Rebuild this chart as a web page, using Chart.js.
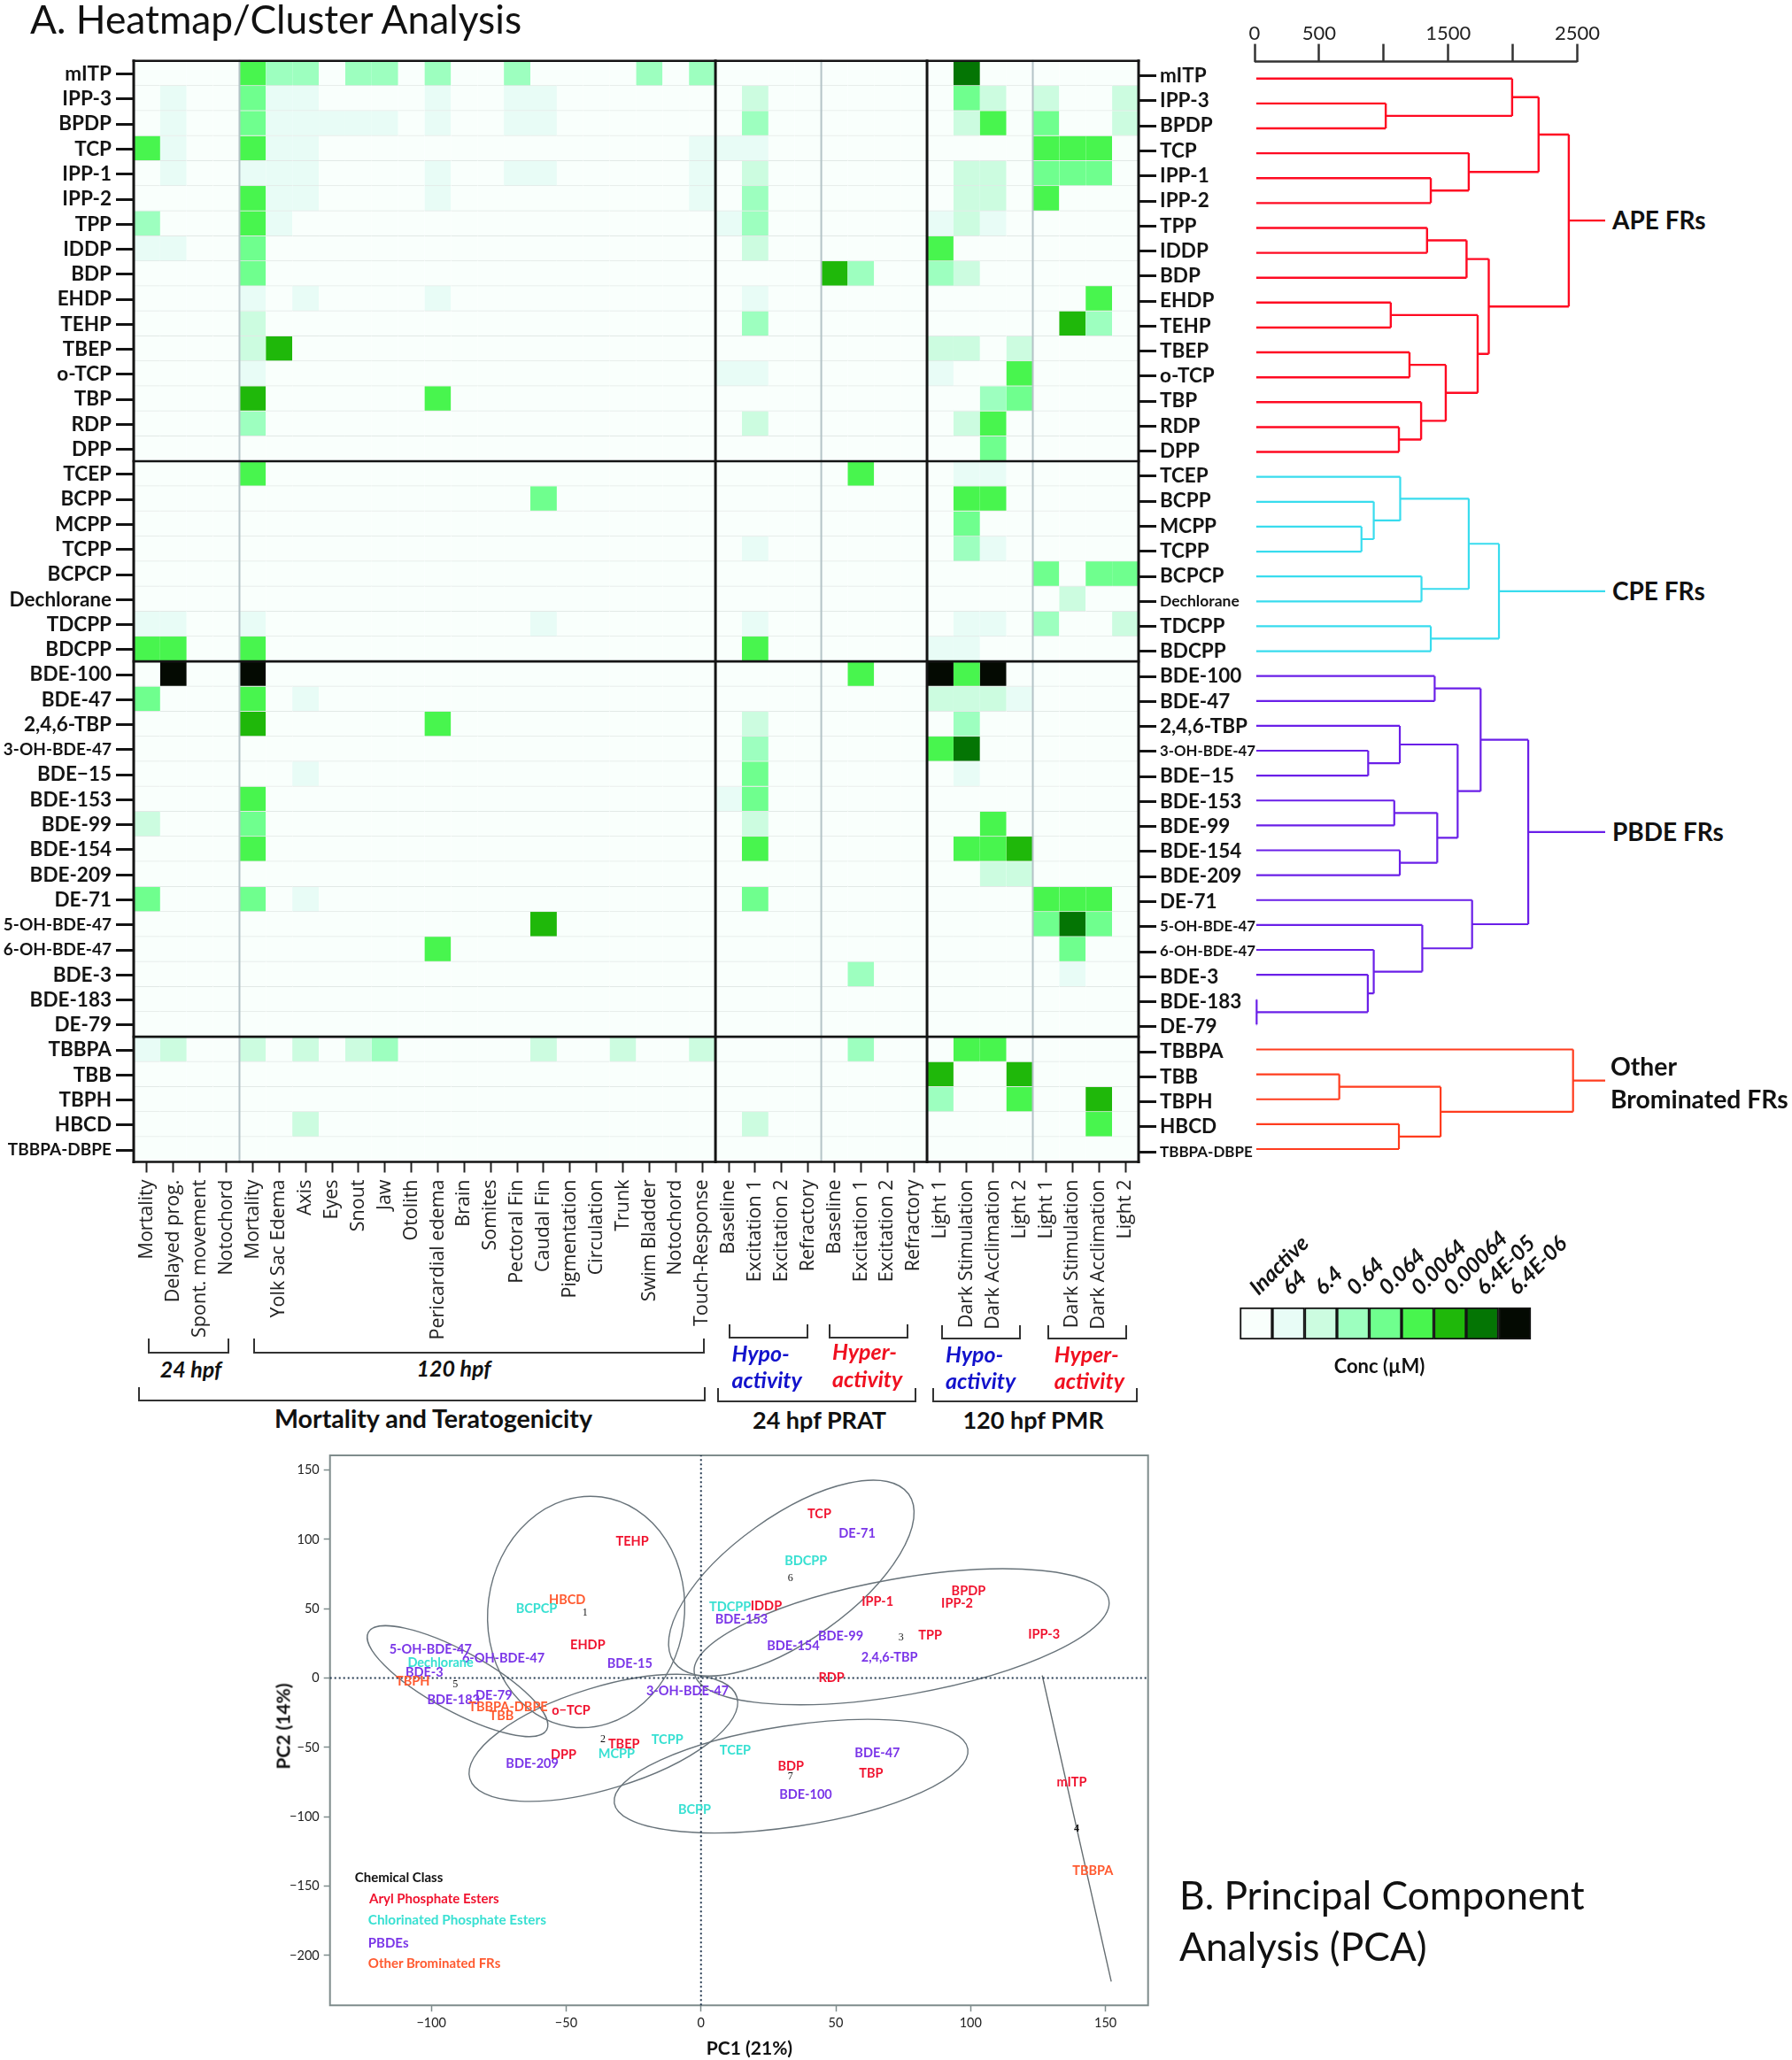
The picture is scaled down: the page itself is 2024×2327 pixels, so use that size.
<!DOCTYPE html>
<html>
<head>
<meta charset="utf-8">
<title>Heatmap/Cluster Analysis and PCA</title>
<script src="https://cdn.jsdelivr.net/npm/chart.js@4/dist/chart.umd.js"></script>
<style>
  html, body { margin: 0; padding: 0; background: #fff; }
  #page { position: relative; width: 2024px; height: 2327px; overflow: hidden; font-family: Lato, sans-serif; color: #111; }
  #page canvas { position: absolute; }
  .note { position: absolute; white-space: nowrap; line-height: 1; }
  .bracket { position: absolute; box-sizing: border-box; border: 2px solid #333; border-top: 0; }
</style>
</head>
<body>
<div id="page">
  <canvas id="heat" width="1440" height="1520" style="left:0;top:0"></canvas>
  <canvas id="dendro" width="420" height="1320" style="left:1400px;top:0"></canvas>
  <canvas id="key" width="420" height="150" style="left:1380px;top:1380px"></canvas>
  <canvas id="pca" width="1040" height="680" style="left:300px;top:1620px"></canvas>
</div>
<script>
// heatmap axes
var rowNames = ['mITP','IPP-3','BPDP','TCP','IPP-1','IPP-2','TPP','IDDP','BDP','EHDP','TEHP','TBEP','o-TCP','TBP','RDP','DPP',
  'TCEP','BCPP','MCPP','TCPP','BCPCP','Dechlorane','TDCPP','BDCPP',
  'BDE-100','BDE-47','2,4,6-TBP','3-OH-BDE-47','BDE\u221215','BDE-153','BDE-99','BDE-154','BDE-209','DE-71','5-OH-BDE-47','6-OH-BDE-47','BDE-3','BDE-183','DE-79',
  'TBBPA','TBB','TBPH','HBCD','TBBPA-DBPE'];
var colNames = ['Mortality','Delayed prog.','Spont. movement','Notochord','Mortality','Yolk Sac Edema','Axis','Eyes','Snout','Jaw','Otolith','Pericardial edema','Brain','Somites','Pectoral Fin','Caudal Fin','Pigmentation','Circulation','Trunk','Swim Bladder','Notochord','Touch-Response',
  'Baseline','Excitation 1','Excitation 2','Refractory','Baseline','Excitation 1','Excitation 2','Refractory',
  'Light 1','Dark Stimulation','Dark Acclimation','Light 2','Light 1','Dark Stimulation','Dark Acclimation','Light 2'];

// active cells of each row as [column, level], everything else is level 0 (inactive)
var heatCells = [
  [[4,5],[5,3],[6,3],[8,3],[9,3],[11,3],[14,3],[19,3],[21,3],[31,7]],
  [[1,1],[4,4],[5,1],[6,1],[11,1],[14,1],[15,1],[23,2],[31,4],[32,2],[34,2],[37,2]],
  [[1,1],[4,4],[5,1],[6,1],[7,1],[8,1],[9,1],[11,1],[14,1],[15,1],[23,3],[31,2],[32,5],[34,4],[37,2]],
  [[0,5],[1,1],[4,5],[5,1],[6,1],[21,1],[22,1],[23,1],[34,5],[35,5],[36,5]],
  [[1,1],[4,1],[5,1],[6,1],[11,1],[14,1],[15,1],[21,1],[23,2],[31,2],[32,2],[34,4],[35,4],[36,4]],
  [[4,5],[5,1],[6,1],[11,1],[21,1],[23,3],[31,2],[32,2],[34,5]],
  [[0,3],[4,5],[5,1],[22,1],[23,3],[30,1],[31,2],[32,1]],
  [[0,1],[1,1],[4,4],[23,2],[30,5]],
  [[4,4],[26,6],[27,3],[30,3],[31,2]],
  [[4,1],[6,1],[11,1],[23,1],[36,5]],
  [[4,2],[23,3],[35,6],[36,3]],
  [[4,2],[5,6],[30,2],[31,2],[33,2]],
  [[4,1],[22,1],[23,1],[30,1],[33,5]],
  [[4,6],[11,5],[32,3],[33,4]],
  [[4,3],[23,2],[31,2],[32,5]],
  [[32,4]],
  [[4,5],[27,5],[31,1],[32,1]],
  [[15,4],[31,5],[32,5]],
  [[31,4]],
  [[23,1],[31,3],[32,1]],
  [[34,4],[36,4],[37,4]],
  [[35,2]],
  [[0,1],[1,1],[4,1],[15,1],[23,1],[31,1],[32,1],[34,3],[37,2]],
  [[0,5],[1,5],[4,5],[23,5],[30,1],[31,1]],
  [[1,8],[4,8],[27,5],[30,8],[31,5],[32,8]],
  [[0,4],[4,5],[6,1],[30,2],[31,2],[32,2],[33,1]],
  [[4,6],[11,5],[23,2],[31,3]],
  [[23,3],[30,5],[31,7]],
  [[6,1],[23,4],[31,1]],
  [[4,5],[22,1],[23,4]],
  [[0,2],[4,4],[23,2],[32,5]],
  [[4,5],[23,5],[31,5],[32,5],[33,6]],
  [[32,2],[33,2]],
  [[0,4],[4,4],[6,1],[23,4],[34,5],[35,5],[36,5]],
  [[15,6],[34,4],[35,7],[36,4]],
  [[11,5],[35,4]],
  [[27,3],[35,1]],
  [],
  [],
  [[0,1],[1,2],[4,2],[6,2],[8,2],[9,3],[15,2],[18,2],[21,2],[27,3],[31,5],[32,5]],
  [[30,6],[33,6]],
  [[30,3],[33,5],[36,6]],
  [[6,2],[23,2],[36,5]],
  []
];

// colour key
var keyLabels = ['Inactive','64','6.4','0.64','0.064','0.0064','0.00064','6.4E-05','6.4E-06'];
var heatColours = ['#f9fffc','#e8fcf6','#ccfce0','#9dffbf','#6fff8e','#48f54e','#1fb80a','#047504','#040a02'];

// section breaks of the heatmap
var blackCols = [0,22,30,38];
var grayCols = [4,26,34];
var blackRows = [0,16,24,39,44];

// dendrogram: [child, child, height], a child is a row index or 'mN' for an earlier merge
var apeMerges = [[1,2,1016],[0,'m0',1995],[4,5,1365],[3,'m2',1659],['m1','m3',2200],[6,7,1336],['m5',8,1642],[9,10,1055],[11,12,1200],[14,15,1118],[13,'m9',1290],['m8','m10',1481],['m7','m11',1728],['m6','m12',1814],['m4','m13',2434]];
var cpeMerges = [[18,19,828],[17,'m0',923],[16,'m1',1128],[20,21,1293],['m2','m3',1659],[22,23,1365],['m4','m5',1893]];
var pbdeMerges = [[24,25,1395],[27,28,880],[26,'m1',1125],[29,30,1082],[31,32,1125],['m3','m4',1415],['m2','m5',1573],['m0','m6',1751],[37,38,16],[36,'m8',877],[35,'m9',923],[34,'m10',1299],[33,'m11',1685],['m7','m12',2120]];
var otherMerges = [[40,41,656],[42,43,1118],['m0','m1',1441],[39,'m2',2467]];
var dendroTicks = [0,500,1000,1500,2000,2500];
var dendroTickLabels = ['0','500','','1500','','2500'];

// PCA scores, class 0 aryl phosphate, 1 chlorinated, 2 PBDE, 3 other brominated
var pcaNames = ['TEHP','HBCD','BCPCP','EHDP','BDE-15','5-OH-BDE-47','6-OH-BDE-47','Dechlorane','BDE-3','TBPH','DE-79','BDE-183','TBBPA-DBPE','TBB','o\u2212TCP','3-OH-BDE-47','TBEP','TCPP','MCPP','DPP','BDE-209','BCPP',
  'TCP','DE-71','BDCPP','TDCPP','IDDP','BDE-153','IPP-1','BPDP','IPP-2','BDE-99','TPP','IPP-3','BDE-154','2,4,6-TBP','RDP','TCEP','BDE-47','BDP','TBP','BDE-100','mITP','TBBPA'];
var pc1 = [-25.5,-49.6,-61,-42,-26.4,-100.3,-73.3,-96.6,-102.6,-106.9,-76.8,-91.8,-71.5,-74,-48.2,-5,-28.6,-12.5,-31.3,-51,-62.6,-2.4,
  43.9,57.9,38.9,10.8,24.2,15,65.5,99.2,95,51.8,85,127.2,34.2,69.9,48.4,12.7,65.4,33.3,63.1,38.8,137.5,145.3];
var pc2 = [98.7,56.2,50.2,24,10.4,20.9,14,11,4.3,-2.3,-12.3,-15.7,-21,-27.2,-23.4,-9.1,-47.7,-44.3,-54.9,-55.3,-61.9,-94.7,
  118,104,84.3,51,51.7,42.6,55.1,63,53.6,30,30.6,31.7,23,14.7,0.2,-52.1,-54.3,-63.8,-68.7,-84,-75.3,-138.9];
var pcaClass = [0,3,1,0,2,2,2,1,2,3,2,2,3,3,0,2,0,1,1,0,2,1,
  0,2,1,1,0,2,0,0,0,2,0,0,2,2,0,1,2,0,0,2,0,3];
var clusterIds = ['1','5','2','6','3','7','4'];
var clusterPc1 = [-43,-91.1,-36.4,33.2,74.2,33.2,139.3];
var clusterPc2 = [46.8,-4.9,-44,71.7,29.1,-71.3,-108.5];

// cluster ellipses: centre in PC units, radii and tilt as seen on the page
var ellipseCentres = [[-42.6,47.7],[-90.3,-2.2],[-36.2,-43.1],[33.4,-70.7],[33.5,72.1],[74.4,29.8]];
var ellipseRadii = [[111,131],[114.8,33.8],[157.7,57.5],[202,57],[163,70],[237.7,65.7]];
var ellipseTilts = [7.7,28.7,-17,-8.7,-35.6,-10];
var cluster4Line = [[126.6,1.5],[152.1,-218.4]];

var classColours = ['#f0132f','#38e0d2','#7a35e8','#ff5a30'];
var BLACK = '#141414';

Chart.defaults.font.family = 'Lato, sans-serif';
Chart.defaults.animation = false;
Chart.defaults.responsive = false;
Chart.defaults.devicePixelRatio = 1;
Chart.defaults.plugins.legend.display = false;
Chart.defaults.plugins.tooltip.enabled = false;
Chart.defaults.layout.autoPadding = false;

// several straight pieces as one path, NaN breaks the line
function pieces(list) {
  var out = [];
  list.forEach(function (p) {
    out.push({x: p[0], y: p[1]}, {x: p[2], y: p[3]}, {x: NaN, y: NaN});
  });
  return out;
}

function lineSet(data, color, width, xAxis, yAxis) {
  return {type: 'line', data: data, borderColor: color, borderWidth: width, pointRadius: 0, clip: false, order: 0,
    xAxisID: xAxis, yAxisID: yAxis, borderCapStyle: 'square'};
}

// ---- heatmap ----
var heatSets = rowNames.map(function (name, r) {
  var colours = colNames.map(function () { return heatColours[0]; });
  heatCells[r].forEach(function (c) { colours[c[0]] = heatColours[c[1]]; });
  return {
    type: 'bar', label: name, data: colNames.map(function () { return [r, r + 1]; }),
    backgroundColor: colours, borderColor: '#e2e9e6', borderWidth: {top: 0, left: 0, right: 0, bottom: 1},
    borderSkipped: false, barPercentage: 1, categoryPercentage: 1, grouped: false, order: 2,
    xAxisID: 'x', yAxisID: 'y'
  };
});
heatSets.push(lineSet(pieces(grayCols.map(function (c) { return [c, 0, c, 44]; })), '#b4c3c7', 2, 'xl', 'y'));
heatSets[heatSets.length - 1].order = 1;
heatSets.push(lineSet(pieces(blackCols.map(function (c) { return [c, 0, c, 44]; })), BLACK, 3, 'xl', 'y'));
heatSets.push(lineSet(pieces(blackRows.map(function (r) { return [0, r, 38, r]; })), BLACK, 2.6, 'xl', 'y'));

function centreTicks(axis) {
  axis.ticks = rowNames.map(function (n, i) { return {value: i + 0.53}; });
}
var smallLeft = {'3-OH-BDE-47': 19, '5-OH-BDE-47': 19, '6-OH-BDE-47': 19, 'TBBPA-DBPE': 19};
var smallRight = {'Dechlorane': 17.5, '3-OH-BDE-47': 16.8, '5-OH-BDE-47': 16.8, '6-OH-BDE-47': 16.8, 'TBBPA-DBPE': 17};
function rowAxis(position, sizes, low, width, gap) {
  return {
    type: 'linear', position: position, reverse: true, min: low, max: low + 44,
    afterBuildTicks: centreTicks,
    afterFit: function (axis) { axis.width = width; },
    border: {display: false},
    grid: {drawOnChartArea: false, tickLength: 20, tickWidth: 3, tickColor: BLACK},
    ticks: {
      autoSkip: false, padding: gap, color: BLACK,
      callback: function (v, i) { return rowNames[i]; },
      font: function (ctx) {
        return {size: sizes[rowNames[ctx.index]] || 22.5, weight: 'bold'};
      }
    }
  };
}

new Chart(document.getElementById('heat'), {
  type: 'bar',
  data: {labels: colNames, datasets: heatSets},
  options: {
    layout: {padding: {top: 68.7}},
    scales: {
      x: {
        type: 'category', position: 'bottom', offset: true,
        afterFit: function (axis) { axis.height = 207.5; },
        border: {display: false},
        grid: {drawOnChartArea: false, tickLength: 12, tickWidth: 2, tickColor: '#222', offset: false},
        ticks: {autoSkip: false, minRotation: 90, maxRotation: 90, padding: 8, color: '#222', font: {family: 'Open Sans', size: 21.5}}
      },
      xl: {type: 'linear', display: false, offset: false, min: 0, max: 38},
      y: rowAxis('left', smallLeft, 0, 151, 5),
      yr: rowAxis('right', smallRight, -0.07, 154, 4)
    }
  }
});

// ---- dendrogram ----
var LEAF_START = 13;
function dendroPaths(merges, stemEnd) {
  var made = [], lines = [];
  function node(ref) {
    return typeof ref === 'string' ? made[+ref.slice(1)] : {h: LEAF_START, y: ref};
  }
  merges.forEach(function (m) {
    var a = node(m[0]), b = node(m[1]);
    lines.push([a.h, a.y, m[2], a.y], [m[2], a.y, m[2], b.y], [b.h, b.y, m[2], b.y]);
    made.push({h: m[2], y: (a.y + b.y) / 2});
  });
  var top = made[made.length - 1];
  lines.push([top.h, top.y, stemEnd, top.y]);
  return pieces(lines);
}
var Y_TOP = -0.68;
new Chart(document.getElementById('dendro'), {
  type: 'scatter',
  data: {datasets: [
    lineSet(dendroPaths(apeMerges, 2716), '#ff0a22', 2.4, 'x', 'y'),
    lineSet(dendroPaths(cpeMerges, 2716), '#38dcee', 2.2, 'x', 'y'),
    lineSet(dendroPaths(pbdeMerges, 2716), '#6a1fe8', 2.2, 'x', 'y'),
    lineSet(dendroPaths(otherMerges, 2716), '#ff3c1e', 2.2, 'x', 'y'),
    lineSet(pieces([[0, Y_TOP, 2500, Y_TOP]]), '#333', 2.5, 'x', 'y')
  ].map(function (d) { d.showLine = true; d.borderCapStyle = 'butt'; return d; })},
  options: {
    layout: {padding: {left: 17, right: 6.4, bottom: 16.4}},
    scales: {
      x: {
        type: 'linear', position: 'top', min: 0, max: 2720,
        afterBuildTicks: function (axis) { axis.ticks = dendroTicks.map(function (v) { return {value: v}; }); },
        afterFit: function (axis) { axis.height = 69.6; },
        border: {display: false},
        grid: {drawOnChartArea: false, tickLength: 20, tickWidth: 2.5, tickColor: '#333'},
        ticks: {
          autoSkip: false, maxRotation: 0, padding: -2, color: '#222', font: {size: 22},
          callback: function (v, i) { return dendroTickLabels[i]; }
        }
      },
      y: {type: 'linear', display: false, reverse: true, min: Y_TOP, max: 43.2}
    }
  }
});

// ---- colour key ----
new Chart(document.getElementById('key'), {
  type: 'bar',
  data: {labels: keyLabels, datasets: [{
    data: keyLabels.map(function () { return 1; }),
    backgroundColor: heatColours, borderColor: BLACK, borderWidth: 2, borderSkipped: false,
    barPercentage: 1, categoryPercentage: 1, clip: false
  }]},
  options: {
    layout: {padding: {left: 20.5, right: 71, bottom: 17}},
    scales: {
      x: {
        type: 'category', position: 'top', offset: true,
        afterFit: function (axis) { axis.height = 97; },
        border: {display: false}, grid: {display: false},
        ticks: {autoSkip: false, minRotation: 45, maxRotation: 45, padding: 0, labelOffset: 18, color: BLACK,
          font: {size: 24.5, weight: 'bold', style: 'italic'}}
      },
      y: {type: 'linear', display: false, min: 0, max: 1}
    }
  }
});

// ---- PCA ----
var pcaXMin = -137.6, pcaXMax = 165.8, pcaYMin = -236, pcaYMax = 160.6;
var pcaPlugin = {
  id: 'pcaMarks',
  beforeDatasetsDraw: function (chart) {
    var ctx = chart.ctx, sx = chart.scales.x, sy = chart.scales.y;
    ctx.save();
    ctx.strokeStyle = '#68737a';
    ctx.lineWidth = 1.4;
    ellipseCentres.forEach(function (c, i) {
      ctx.beginPath();
      ctx.ellipse(sx.getPixelForValue(c[0]), sy.getPixelForValue(c[1]), ellipseRadii[i][0], ellipseRadii[i][1], ellipseTilts[i] * Math.PI / 180, 0, Math.PI * 2);
      ctx.stroke();
    });
    ctx.restore();
  },
  afterDatasetsDraw: function (chart) {
    var ctx = chart.ctx;
    ctx.save();
    ctx.textAlign = 'center';
    ctx.textBaseline = 'middle';
    chart.getDatasetMeta(0).data.forEach(function (pt, i) {
      ctx.fillStyle = classColours[pcaClass[i]];
      ctx.font = 'bold 14.5px Lato';
      ctx.fillText(pcaNames[i], pt.x, pt.y);
    });
    chart.getDatasetMeta(1).data.forEach(function (pt, i) {
      ctx.fillStyle = '#111';
      ctx.font = (clusterIds[i] === '4' ? 'bold ' : '') + '12px "Liberation Serif"';
      ctx.fillText(clusterIds[i], pt.x, pt.y);
    });
    ctx.restore();
  }
};
var pcaFrame = [[pcaXMin,pcaYMin,pcaXMax,pcaYMin],[pcaXMax,pcaYMin,pcaXMax,pcaYMax],[pcaXMax,pcaYMax,pcaXMin,pcaYMax],[pcaXMin,pcaYMax,pcaXMin,pcaYMin]];
var zeroLines = lineSet(pieces([[pcaXMin,0,pcaXMax,0],[0,pcaYMin,0,pcaYMax]]), '#23384f', 2, 'x', 'y');
zeroLines.borderDash = [2, 3];
zeroLines.borderCapStyle = 'butt';
var minus = function (v) { return String(v).replace('-', '\u2212'); };
new Chart(document.getElementById('pca'), {
  type: 'scatter',
  data: {datasets: [
    {data: pc1.map(function (x, i) { return {x: x, y: pc2[i]}; }), pointRadius: 0},
    {data: clusterPc1.map(function (x, i) { return {x: x, y: clusterPc2[i]}; }), pointRadius: 0},
    zeroLines,
    lineSet(pieces([[cluster4Line[0][0],cluster4Line[0][1],cluster4Line[1][0],cluster4Line[1][1]]]), '#666e72', 1.4, 'x', 'y'),
    lineSet(pieces(pcaFrame), '#7f8c8c', 2, 'x', 'y')
  ]},
  plugins: [pcaPlugin],
  options: {
    layout: {padding: {top: 24, right: 43.3}},
    scales: {
      x: {
        type: 'linear', min: pcaXMin, max: pcaXMax,
        afterBuildTicks: function (axis) { axis.ticks = [-100,-50,0,50,100,150].map(function (v) { return {value: v}; }); },
        afterFit: function (axis) { axis.height = 34.7; },
        border: {display: false},
        grid: {drawOnChartArea: false, tickLength: 7, tickWidth: 1.5, tickColor: '#7f8c8c'},
        ticks: {autoSkip: false, maxRotation: 0, padding: 4, color: '#222', font: {size: 14.5}, callback: minus}
      },
      y: {
        type: 'linear', min: pcaYMin, max: pcaYMax,
        afterBuildTicks: function (axis) { axis.ticks = [-200,-150,-100,-50,0,50,100,150].map(function (v) { return {value: v}; }); },
        afterFit: function (axis) { axis.width = 72.7; },
        border: {display: false},
        grid: {drawOnChartArea: false, tickLength: 7, tickWidth: 1.5, tickColor: '#7f8c8c'},
        ticks: {autoSkip: false, padding: 5, color: '#222', font: {size: 14.5}, callback: minus}
      }
    }
  }
});

// ---- text and brackets around the charts ----
var page = document.getElementById('page');
function note(text, x, y, size, opts) {
  opts = opts || {};
  var d = document.createElement('div');
  d.className = 'note';
  d.textContent = text;
  d.style.left = x + 'px';
  d.style.top = y + 'px';
  d.style.fontSize = size + 'px';
  d.style.fontWeight = opts.weight || 'bold';
  if (opts.italic) d.style.fontStyle = 'italic';
  if (opts.color) d.style.color = opts.color;
  d.style.transform = (opts.left ? 'translateY(-50%)' : 'translate(-50%,-50%)') + (opts.turn ? ' rotate(-90deg)' : '');
  page.appendChild(d);
}
function bracket(x0, x1, y0, y1) {
  var d = document.createElement('div');
  d.className = 'bracket';
  d.style.left = x0 + 'px';
  d.style.top = y0 + 'px';
  d.style.width = (x1 - x0) + 'px';
  d.style.height = (y1 - y0) + 'px';
  page.appendChild(d);
}

note('A. Heatmap/Cluster Analysis', 34, 21, 44.3, {left: true, weight: 'normal'});
note('B. Principal Component', 1332, 2140, 44.3, {left: true, weight: 'normal'});
note('Analysis (PCA)', 1332, 2198, 44.3, {left: true, weight: 'normal'});

note('APE FRs', 1821, 248, 28, {left: true});
note('CPE FRs', 1821, 667, 28, {left: true});
note('PBDE FRs', 1821, 939, 28, {left: true});
note('Other', 1819, 1204, 28.3, {left: true});
note('Brominated FRs', 1819, 1241, 28.3, {left: true});
note('Conc (\u00b5M)', 1558, 1543, 22);

bracket(167, 259, 1512, 1529);
bracket(285.5, 795.5, 1512, 1529);
bracket(156, 797, 1567, 1583);
bracket(823, 913, 1496, 1512);
bracket(935.5, 1025.5, 1496, 1512);
bracket(1062.5, 1152.5, 1497, 1513);
bracket(1182.5, 1272.5, 1497, 1513);
bracket(810, 1034.5, 1568, 1584);
bracket(1053, 1284.5, 1568, 1584);

note('24 hpf', 215.5, 1546, 25, {italic: true});
note('120 hpf', 512.5, 1545, 25, {italic: true});
note('Mortality and Teratogenicity', 489.5, 1602, 28.6);
note('24 hpf PRAT', 925.5, 1603, 27);
note('120 hpf PMR', 1167, 1603, 27);

var HYPO = '#1212cc', HYPER = '#f01020';
note('Hypo-', 826.5, 1528, 25, {left: true, italic: true, color: HYPO});
note('activity', 826.5, 1558, 25, {left: true, italic: true, color: HYPO});
note('Hyper-', 940, 1526, 25, {left: true, italic: true, color: HYPER});
note('activity', 940, 1557, 25, {left: true, italic: true, color: HYPER});
note('Hypo-', 1068, 1529, 25, {left: true, italic: true, color: HYPO});
note('activity', 1068, 1559, 25, {left: true, italic: true, color: HYPO});
note('Hyper-', 1190.7, 1529, 25, {left: true, italic: true, color: HYPER});
note('activity', 1190.7, 1559, 25, {left: true, italic: true, color: HYPER});

note('PC2 (14%)', 318.6, 1950, 21, {turn: true});
note('PC1 (21%)', 846.5, 2312, 21);

note('Chemical Class', 400.8, 2120, 15, {left: true});
note('Aryl Phosphate Esters', 417, 2144.3, 15, {left: true, color: classColours[0]});
note('Chlorinated Phosphate Esters', 415.8, 2169.3, 15.3, {left: true, color: classColours[1]});
note('PBDEs', 415.8, 2194, 15, {left: true, color: classColours[2]});
note('Other Brominated FRs', 415.8, 2216.7, 15, {left: true, color: classColours[3]});
</script>
</body>
</html>
